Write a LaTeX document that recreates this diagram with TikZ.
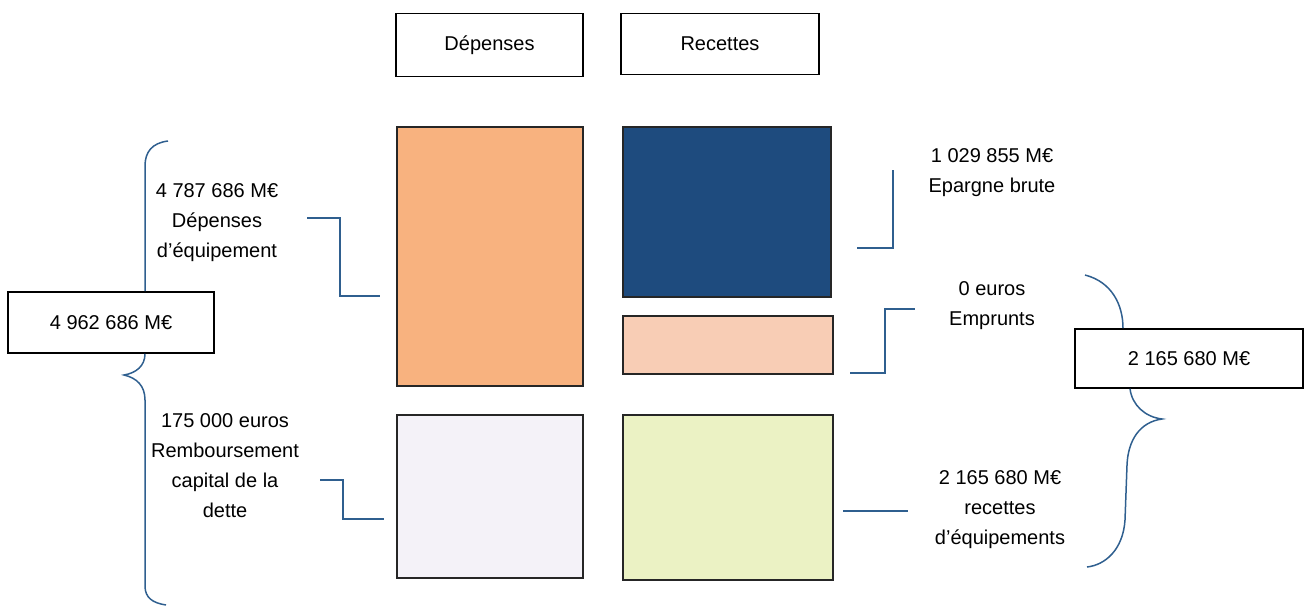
\documentclass[tikz,border=0pt]{standalone}
\usepackage{fontspec}
\setmainfont{Liberation Sans}
\definecolor{cOrange}{HTML}{F8B27F}
\definecolor{cBlue}{HTML}{1E4B7E}
\definecolor{cPeach}{HTML}{F8CDB5}
\definecolor{cGray}{HTML}{F4F2F8}
\definecolor{cGreen}{HTML}{EBF2C4}
\definecolor{cLine}{HTML}{2F5F8F}
\begin{document}
\begin{tikzpicture}[x=1pt,y=-1pt,
  txt/.style={font=\fontsize{20}{30}\selectfont, align=center, inner sep=0pt},
  hbox/.style={draw=black, line width=1.6pt, fill=white, txt},
  block/.style={draw=black!85, line width=1.3pt},
  conn/.style={draw=cLine, line width=2pt},
  brace/.style={draw=cLine, line width=1.5pt}]
\useasboundingbox (0,0) rectangle (1313,605);
% header boxes
\node[hbox, minimum width=187pt, minimum height=63pt] (hdep) at (489.5,45) {Dépenses};
\node[hbox, minimum width=198pt, minimum height=61pt] (hrec) at (720,44) {Recettes};
% coloured blocks
\node[block, fill=cOrange, minimum width=186pt, minimum height=259pt] (orange) at (490,256.5) {};
\node[block, fill=cBlue, minimum width=208pt, minimum height=170pt] (blue) at (727,212) {};
\node[block, fill=cPeach, minimum width=210pt, minimum height=58pt] (peach) at (728,345) {};
\node[block, fill=cGray, minimum width=186pt, minimum height=163pt] (gray) at (490,496.5) {};
\node[block, fill=cGreen, minimum width=210pt, minimum height=165pt] (green) at (728,497.5) {};
% total boxes
\node[hbox, minimum width=206pt, minimum height=61pt] (ltot) at (111,322.5) {4 962 686 M€};
\node[hbox, minimum width=228pt, minimum height=59pt] (rtot) at (1189,358.5) {2 165 680 M€};
% labels
\node[txt] (lequip) at (217,223) {4 787 686 M€\\Dépenses\\d’équipement};
\node[txt] (lremb) at (225,466) {175 000 euros\\Remboursement\\capital de la\\dette};
\node[txt] (lepar) at (992,173) {1 029 855 M€\\Epargne brute};
\node[txt] (lemp) at (992,306) {0 euros\\Emprunts};
\node[txt] (lrec) at (1000,510) {2 165 680 M€\\recettes\\d’équipements};
% connectors
\coordinate (a1) at (307,218);
\coordinate (a2) at (380,296);
\draw[conn] (a1) -- (340,218) -- (340,296) -- (a2);
\coordinate (b1) at (320,480);
\coordinate (b2) at (384,519);
\draw[conn] (b1) -- (343,480) -- (343,519) -- (b2);
\coordinate (c1) at (857,248);
\coordinate (c2) at (893,170);
\draw[conn] (c1) -- (893,248) -- (c2);
\coordinate (d1) at (850,373);
\coordinate (d2) at (915,309);
\draw[conn] (d1) -- (885,373) -- (885,309) -- (d2);
\coordinate (e1) at (843,511);
\coordinate (e2) at (908,511);
\draw[conn] (e1) -- (e2);
% left brace
\draw[brace] (168,141) .. controls (152,143) and (145,152) .. (145,166) -- (ltot.north -| 145,0);
\draw[brace] (ltot.south -| 145,0) .. controls (145,366) and (136,373) .. (124,375)
  .. controls (137,378) and (145,386) .. (145,400) -- (145,586) .. controls (145,598) and (153,603) .. (166,605);
% right brace
\draw[brace] (1085,275) .. controls (1112,282) and (1123,305) .. (rtot.north -| 1123,0);
\draw[brace] (rtot.south -| 1130,0) .. controls (1132,405) and (1145,417) .. (1162,419)
  .. controls (1140,422) and (1128,440) .. (1127,465) -- (1125,520) .. controls (1123,550) and (1105,565) .. (1087,567);
\end{tikzpicture}
\end{document}
